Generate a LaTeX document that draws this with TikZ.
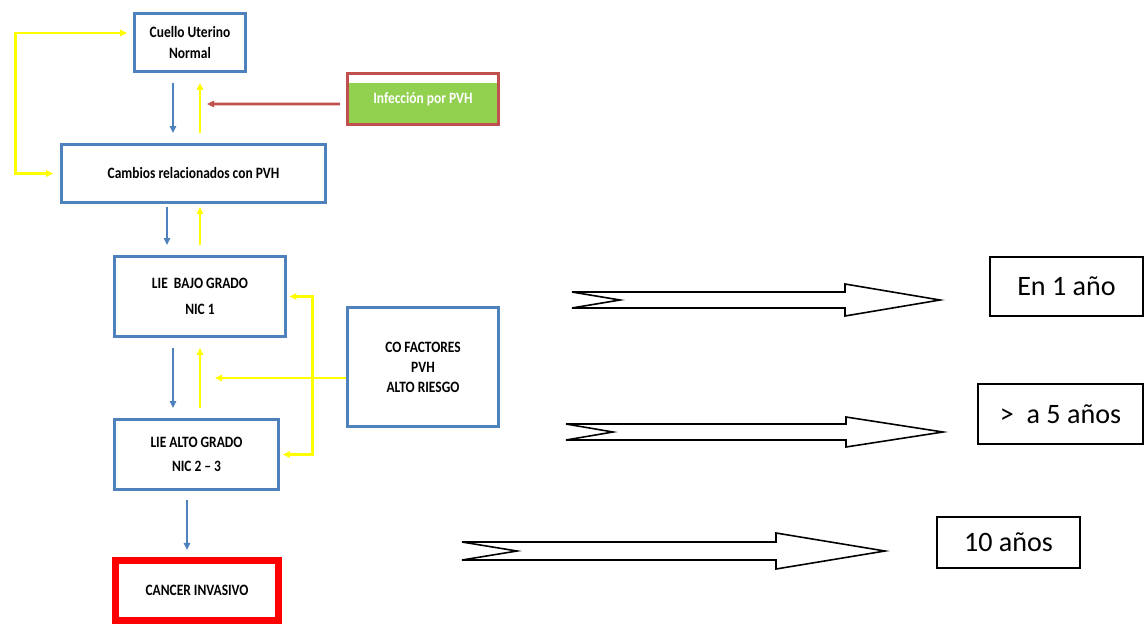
\documentclass[tikz,border=0pt]{standalone}
\usepackage{fontspec}
\setmainfont{Carlito}
\newfontfamily\angosta[FakeStretch=0.85]{Carlito}
\usetikzlibrary{arrows.meta,calc}
\definecolor{azulCaja}{HTML}{4F81BD}
\definecolor{amarillo}{HTML}{FFFF00}
\definecolor{rojoFlecha}{HTML}{C0504D}
\definecolor{verdePVH}{HTML}{92D050}
\definecolor{rojoCancer}{HTML}{FF0000}

\begin{document}
\begin{tikzpicture}[x=0.02cm,y=-0.02cm,>={Triangle[length=4pt,width=3.6pt]},
  caja/.style={draw=azulCaja,line width=1.6pt,align=center,inner sep=0pt,
    font=\angosta\bfseries\fontsize{9}{11.4}\selectfont},
  tiempo/.style={draw=black,line width=0.9pt,inner sep=0pt,
    font=\fontsize{16}{19}\selectfont},
  azul/.style={->,azulCaja,line width=1.1pt,shorten <=0.2cm,shorten >=0.2cm},
  amar/.style={->,amarillo,line width=1.6pt,shorten <=0.2cm,shorten >=0.2cm},
  flecha/.style={draw=black,line width=0.9pt,fill=white,line join=miter}]
  \useasboundingbox (0,0) rectangle (1144,623);
  % columna de cajas
  \node[caja,minimum width=2.22cm,minimum height=1.16cm] (cuello) at (190,42.5)
    {Cuello Uterino\\Normal};
  \node[caja,draw=rojoFlecha,fill=verdePVH,text=white,
    minimum width=3.03cm,minimum height=1.02cm] (infeccion) at (423,99)
    {Infección por PVH};
  \fill[white] ($(infeccion.north west)+(3,3)$) rectangle ($(infeccion.north east)+(-3,11)$);
  \node[caja,minimum width=5.28cm,minimum height=1.16cm] (cambios) at (193.5,173.5)
    {Cambios relacionados con PVH};
  \node[caja,minimum width=3.42cm,minimum height=1.6cm] (bajo) at (200,296.5)
    {LIE\ \ BAJO GRADO\\[3pt]NIC 1};
  \node[caja,minimum width=3.02cm,minimum height=2.38cm] (cofact) at (423,367)
    {CO FACTORES\\PVH\\ALTO RIESGO};
  \node[caja,minimum width=3.28cm,minimum height=1.4cm] (alto) at (196.5,454.5)
    {LIE ALTO GRADO\\[2pt]NIC 2 – 3};
  \node[caja,draw=rojoCancer,line width=4pt,minimum width=3.26cm,minimum height=1.21cm]
    (cancer) at (197,590.75) {CANCER INVASIVO};

  % flechas entre cajas
  \draw[azul] (cuello.south -| 173,0) -- (cambios.north -| 173,0);
  \draw[amar] (cambios.north -| 200,0) -- (cuello.south -| 200,0);
  \draw[azul,shorten <=0.06cm] (cambios.south -| 167,0) -- (bajo.north -| 167,0);
  \draw[amar,shorten >=0.06cm] (bajo.north -| 200,0) -- (cambios.south -| 200,0);
  \draw[azul] (bajo.south -| 173,0) -- (alto.north -| 173,0);
  \draw[amar] (alto.north -| 200,0) -- (bajo.south -| 200,0);
  \draw[azul,shorten <=0.18cm,shorten >=0.14cm] (alto.south -| 187,0) -- (cancer.north -| 187,0);

  \coordinate (puntaRoja) at (207,104);
  \draw[->,rojoFlecha,line width=1.6pt,shorten <=0.12cm]
    ([yshift=-0.1cm]infeccion.west) -- (puntaRoja);
  \coordinate (puntaCof) at (215,378);
  \draw[amar,shorten <=0cm,shorten >=0cm] (cofact.west |- puntaCof) -- (puntaCof);
  \draw[amar,<->,shorten <=0.05cm,shorten >=0.06cm] (bajo.east) -- ++(26,0) |- (alto.east);
  \draw[amar,<->,shorten <=0.12cm,shorten >=0.14cm]
    ([yshift=0.19cm]cuello.west) -| ($(cambios.west)+(-45,0)$) -- (cambios.west);

  % flechas grandes y tiempos
  \draw[flecha] (572,292) -- (845,292) -- (845,284) -- (940,300) -- (845,316)
    -- (845,308) -- (572,308) -- (620,300) -- cycle;
  \draw[flecha] (566,424) -- (846,424) -- (846,417) -- (943,432) -- (846,447)
    -- (846,440) -- (566,440) -- (613,432) -- cycle;
  \draw[flecha] (462,542) -- (776,542) -- (776,533) -- (885,551) -- (776,569)
    -- (776,560) -- (462,560) -- (517,551) -- cycle;
  \node[tiempo,minimum width=3.06cm,minimum height=1.18cm] (uno) at (1066.5,286.5)
    {En 1 año};
  \node[tiempo,minimum width=3.3cm,minimum height=1.2cm] (cinco) at (1060.5,414)
    {>~~a 5 años};
  \node[tiempo,minimum width=2.86cm,minimum height=1.02cm] (diez) at (1008.5,542.5)
    {10 años};
\end{tikzpicture}
\end{document}
